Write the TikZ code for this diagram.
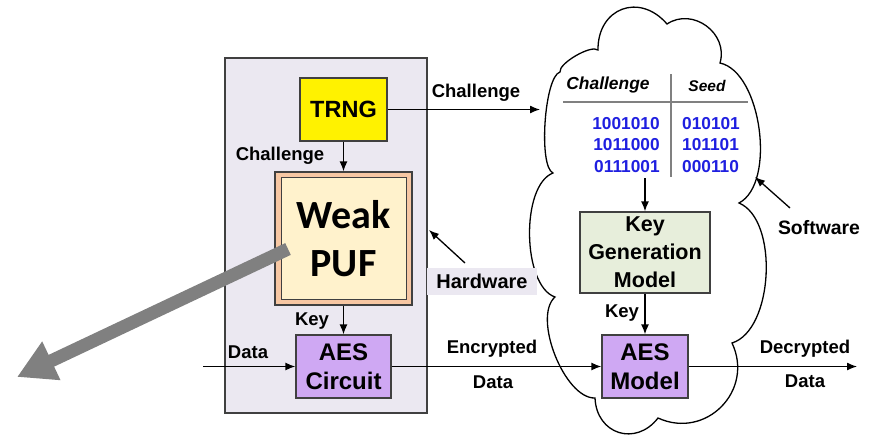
\documentclass[tikz,border=0pt]{standalone}
\usepackage{fontspec}
\setmainfont{Liberation Sans}
\newfontfamily\puffont{Carlito}
\usetikzlibrary{arrows.meta,calc}

\definecolor{hwfill}{HTML}{EBE8F1}
\definecolor{pufout}{HTML}{F7C7A3}
\definecolor{pufin}{HTML}{FFF2CC}
\definecolor{aesfill}{HTML}{CFA8F3}
\definecolor{kgfill}{HTML}{E7EEDB}
\definecolor{bitblue}{HTML}{1F1FE0}
\definecolor{bigarrow}{HTML}{808080}

\begin{document}
\begin{tikzpicture}[x=1pt,y=-1pt,>={Latex[length=10pt,width=8pt]},
  box/.style={draw=black!75,line width=1.3pt,inner sep=0pt,align=center},
  lbl/.style={font=\fontsize{18.5}{20}\selectfont\bfseries,inner sep=0pt},
  wire/.style={->,line width=1.3pt},
  bits/.style={text=bitblue,font=\fontsize{17.3}{21.5}\selectfont\bfseries,inner sep=0pt}]
\useasboundingbox (0,0) rectangle (870,440);

% hardware side
\node[box,fill=hwfill,minimum width=202pt,minimum height=355pt] (hw) at (326,235.5) {};
\node[box,fill=yellow,minimum width=87pt,minimum height=63pt,font=\fontsize{23.5}{26}\selectfont\bfseries] (trng) at (343.5,109.5) {TRNG};
\node[box,fill=pufout,minimum width=137pt,minimum height=133pt] (pufo) at (343.5,238.5) {};
\node[box,fill=pufin,line width=1pt,minimum width=125pt,minimum height=122pt,font=\puffont\fontsize{40}{48}\selectfont\bfseries] (puf) at (343.5,238.5) {Weak\\PUF};
\node[box,fill=aesfill,minimum width=95pt,minimum height=63pt,font=\fontsize{24}{29}\selectfont\bfseries] (aesc) at (343.5,366.5) {AES\\Circuit};

% software side (cloud)
\coordinate (p1) at (560,72);
\coordinate (p2) at (598,50);
\coordinate (p3) at (667,24);
\coordinate (p4) at (720,63);
\coordinate (p5) at (739,203);
\coordinate (p6) at (732,343);
\coordinate (p8) at (658,418);
\coordinate (p9) at (595,398);
\coordinate (p10) at (555,297);
\coordinate (p11) at (553,173);
\draw[line width=1.3pt] (p1)
  \foreach \a/\b/\k in {p1/p2/0.2,p2/p3/0.57,p3/p4/0.47,p4/p5/0.3,p5/p6/0.31,
                        p6/p8/0.5,p8/p9/0.55,p9/p10/0.28,p10/p11/0.28,p11/p1/0.16}
  { .. controls ($(\a)!\k!70:(\b)$) and ($(\b)!\k!-70:(\a)$) .. (\b) } -- cycle;

\node[lbl,font=\fontsize{17.4}{20}\selectfont\bfseries\itshape] (hchal) at (608,85) {Challenge};
\node[lbl,font=\fontsize{15.5}{18}\selectfont\bfseries\itshape] (hseed) at (707,86) {Seed};
\draw[line width=1.3pt,bigarrow] (563,102) -- (748,102);
\draw[line width=1.3pt,bigarrow] (671,74) -- (671,177);
\node[bits,align=right] (chals) at (626,145) {1001010\\1011000\\0111001};
\node[bits,align=left] (seeds) at (711,145) {010101\\101101\\000110};
\coordinate (tabbot) at (645,178);
\node[box,fill=kgfill,minimum width=130pt,minimum height=81pt,font=\fontsize{21.5}{28}\selectfont\bfseries] (keygen) at (645,252.5) {Key\\Generation\\Model};
\node[box,fill=aesfill,minimum width=86pt,minimum height=63pt,font=\fontsize{24}{29}\selectfont\bfseries] (aesm) at (645,366.5) {AES\\Model};

% connectors
\coordinate (din) at (203,366.5);
\coordinate (cin) at (540,109.5);
\coordinate (dout) at (857,366.5);
\draw[wire] (trng) -- (pufo);
\draw[wire] (pufo) -- (aesc);
\draw[wire] (din) -- (aesc);
\draw[wire] (aesc) -- (aesm);
\draw[wire] (aesm) -- (dout);
\draw[wire] (trng.east) -- (cin);
\draw[wire] (tabbot) -- (keygen);
\draw[wire] (keygen) -- (aesm);

% labels
\node[lbl] (lchal1) at (280,156) {Challenge};
\node[lbl] (lchal2) at (476,93) {Challenge};
\node[lbl] (lkey1) at (312,321) {Key};
\node[lbl] (lkey2) at (622,313) {Key};
\node[lbl] (ldata) at (248,352) {Data};
\node[lbl] (lenc) at (492,349) {Encrypted};
\node[lbl] (lencd) at (493,382) {Data};
\node[lbl] (ldec) at (805,349) {Decrypted};
\node[lbl] (ldecd) at (805,381) {Data};
\node[lbl,fill=hwfill,minimum width=110pt,minimum height=27pt,font=\fontsize{20}{22}\selectfont\bfseries] (hwlbl) at (482,281.5) {Hardware};
\node[lbl,font=\fontsize{19.4}{22}\selectfont\bfseries] (swlbl) at (819,228) {Software};
\coordinate (hwtail) at (465,263);
\coordinate (hwtip) at (429,230);
\coordinate (swtail) at (790,208);
\coordinate (swtip) at (755,177);
\draw[wire] (hwtail) -- (hwtip);
\draw[wire] (swtail) -- (swtip);

% big grey arrow
\coordinate (garrs) at (288,249);
\coordinate (garre) at (17,377);
\draw[line width=13pt,bigarrow,-{Triangle[length=38pt 0,width=40pt 0]}] (garrs) -- (garre);
\end{tikzpicture}
\end{document}
